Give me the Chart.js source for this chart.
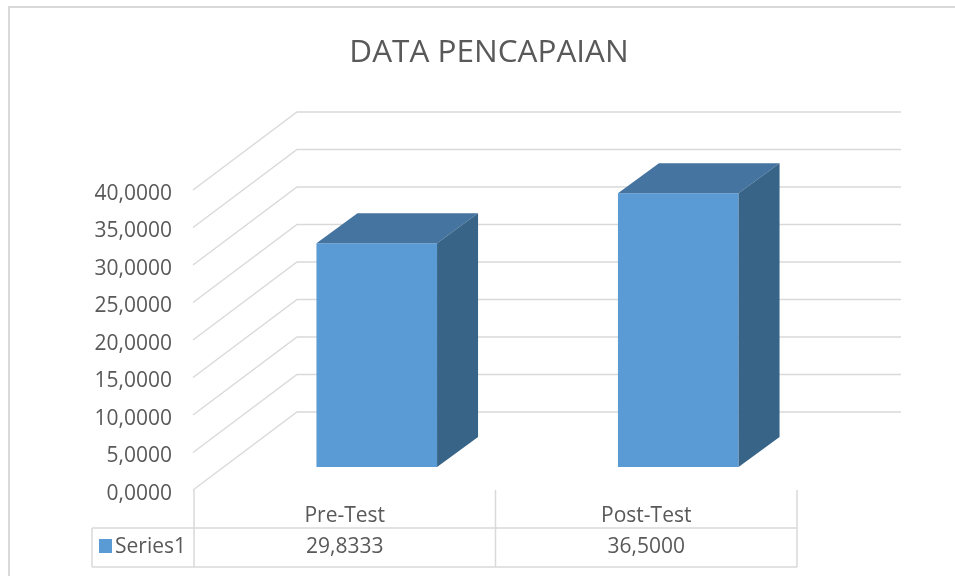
<!DOCTYPE html>
<html lang="id">
<head>
    <meta charset="UTF-8">
    <title>DATA PENCAPAIAN</title>
    <script src="https://cdn.jsdelivr.net/npm/chart.js"></script>
    <style>
        html, body {
            margin: 0;
            padding: 0;
            background: #ffffff;
        }
        .chart-box {
            width: 955px;
            height: 576px;
        }
    </style>
</head>
<body>
    <div class="chart-box"><canvas id="myChart"></canvas></div>
    <script>
        const chartTitle = 'DATA PENCAPAIAN';
        const categories = ['Pre-Test', 'Post-Test'];
        const seriesName = 'Series1';
        const seriesValues = [29.8333, 36.5];
        const axisMin = 0;
        const axisMax = 40;
        const axisStep = 5;

        const textColor = '#595959';
        const gridColor = '#d9d9d9';
        const fontFamily = '"Open Sans", "Noto Sans", sans-serif';

        // 3d look: front plane (labels, table) sits below/left of the bar plane, back wall above/right
        const FRONT_DX = -32, FRONT_DY = 23;
        const BACK_DX = 71, BACK_DY = -55;
        const DEPTH_DX = 41, DEPTH_DY = -30;

        function fmt(v) {
            return v.toFixed(4).replace('.', ',');
        }

        const frame3d = {
            id: 'frame3d',
            beforeDraw(chart) {
                const ctx = chart.ctx;
                ctx.save();
                ctx.fillStyle = '#ffffff';
                ctx.fillRect(0, 0, chart.width, chart.height);
                ctx.strokeStyle = gridColor;
                ctx.lineWidth = 2;
                ctx.beginPath();
                ctx.moveTo(9, chart.height);
                ctx.lineTo(9, 7);
                ctx.lineTo(chart.width, 7);
                ctx.stroke();

                // title is drawn by hand so it centres on the whole frame, not the padded box
                ctx.fillStyle = textColor;
                ctx.font = '31.5px ' + fontFamily;
                ctx.textAlign = 'center';
                ctx.textBaseline = 'middle';
                ctx.fillText(chartTitle, 489, 53);
                ctx.restore();
            },
            beforeDatasetsDraw(chart) {
                const ctx = chart.ctx;
                const area = chart.chartArea;
                const y = chart.scales.y;
                ctx.save();
                ctx.strokeStyle = gridColor;
                ctx.lineWidth = 1.3;
                for (let v = axisMin; v <= axisMax; v += axisStep) {
                    const py = y.getPixelForValue(v);
                    ctx.beginPath();
                    ctx.moveTo(area.left + FRONT_DX - 1, py + FRONT_DY);
                    ctx.lineTo(area.left + BACK_DX, py + BACK_DY);
                    ctx.lineTo(area.right + BACK_DX + 1, py + BACK_DY);
                    ctx.stroke();
                }
                ctx.restore();
            },
            afterDatasetsDraw(chart) {
                const ctx = chart.ctx;
                const meta = chart.getDatasetMeta(0);
                ctx.save();
                meta.data.forEach(bar => {
                    const l = bar.x - bar.width / 2;
                    const r = bar.x + bar.width / 2;
                    const t = bar.y;
                    const b = bar.base;
                    // top face
                    ctx.fillStyle = '#44749f';
                    ctx.beginPath();
                    ctx.moveTo(l, t);
                    ctx.lineTo(l + DEPTH_DX, t + DEPTH_DY);
                    ctx.lineTo(r + DEPTH_DX, t + DEPTH_DY);
                    ctx.lineTo(r, t);
                    ctx.closePath();
                    ctx.fill();
                    // side face
                    ctx.fillStyle = '#386488';
                    ctx.beginPath();
                    ctx.moveTo(r, t);
                    ctx.lineTo(r + DEPTH_DX, t + DEPTH_DY);
                    ctx.lineTo(r + DEPTH_DX, b + DEPTH_DY);
                    ctx.lineTo(r, b);
                    ctx.closePath();
                    ctx.fill();
                });
                ctx.restore();
            },
            afterDraw(chart) {
                // data table under the plot
                const ctx = chart.ctx;
                const area = chart.chartArea;
                const x = chart.scales.x;
                const y = chart.scales.y;
                const top = y.getPixelForValue(0) + FRONT_DY;
                const mid = 528;
                const bottom = 567;
                const keyLeft = 92;
                const left = area.left + FRONT_DX;
                const right = area.right + FRONT_DX;

                ctx.save();
                ctx.strokeStyle = gridColor;
                ctx.lineWidth = 1.5;
                ctx.beginPath();
                ctx.moveTo(keyLeft, mid);
                ctx.lineTo(right, mid);
                ctx.moveTo(keyLeft, bottom);
                ctx.lineTo(right, bottom);
                ctx.moveTo(keyLeft, mid);
                ctx.lineTo(keyLeft, bottom);
                ctx.moveTo(left, top);
                ctx.lineTo(left, bottom);
                for (let i = 0; i < categories.length; i++) {
                    const edge = (x.getPixelForValue(i) + x.getPixelForValue(i + 1)) / 2;
                    const bx = (i === categories.length - 1 ? area.right : edge) + FRONT_DX;
                    ctx.moveTo(bx, top);
                    ctx.lineTo(bx, bottom);
                }
                ctx.stroke();

                ctx.fillStyle = textColor;
                ctx.font = '21px ' + fontFamily;
                ctx.textAlign = 'center';
                ctx.textBaseline = 'middle';
                categories.forEach((c, i) => {
                    const cx = x.getPixelForValue(i) + FRONT_DX;
                    ctx.fillText(c, cx, 516);
                    ctx.fillText(fmt(seriesValues[i]), cx, 547);
                });

                ctx.fillStyle = '#5b9bd5';
                ctx.fillRect(99, 539, 13, 14);
                ctx.fillStyle = textColor;
                ctx.textAlign = 'left';
                ctx.fillText(seriesName, 115, 547);
                ctx.restore();
            }
        };

        const ctx = document.getElementById('myChart').getContext('2d');
        const myChart = new Chart(ctx, {
            type: 'bar',
            data: {
                labels: categories,
                datasets: [{
                    label: seriesName,
                    data: seriesValues,
                    backgroundColor: '#5b9bd5',
                    borderWidth: 0,
                    barPercentage: 0.4,
                    categoryPercentage: 1.0
                }]
            },
            options: {
                responsive: true,
                maintainAspectRatio: false,
                animation: false,
                layout: {
                    padding: { left: 94, right: 126, top: 167, bottom: 109 }
                },
                plugins: {
                    legend: { display: false },
                    tooltip: { enabled: false },
                    title: { display: false }
                },
                scales: {
                    x: {
                        display: false
                    },
                    y: {
                        min: axisMin,
                        max: axisMax,
                        afterFit(scale) {
                            scale.width = 132;
                        },
                        grid: { display: false, drawTicks: false },
                        border: { display: false },
                        ticks: {
                            stepSize: axisStep,
                            padding: 54,
                            labelOffset: FRONT_DY + 4,
                            color: textColor,
                            font: { family: fontFamily, size: 21 },
                            callback: v => fmt(v)
                        }
                    }
                }
            },
            plugins: [frame3d]
        });
    </script>
</body>
</html>
